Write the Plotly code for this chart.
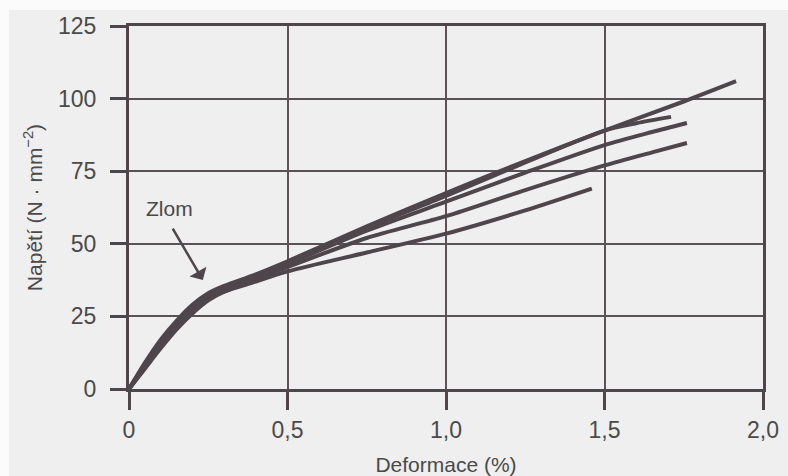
import plotly.graph_objects as go

# ---- data ----
x_common = [0, 0.05, 0.1, 0.15, 0.2, 0.25, 0.3, 0.4, 0.5, 0.75, 1.0, 1.25, 1.5]

curve_a_x = x_common + [1.75, 1.915]
curve_a_y = [0, 9, 17, 23.5, 29, 33, 35.5, 39.5, 44, 56, 67.5, 78.5, 89, 99, 106]

curve_b_x = x_common + [1.6, 1.71]
curve_b_y = [0, 8.5, 16.5, 23, 28.5, 32.5, 35, 39, 43.5, 55.5, 66.5, 78, 89, 91.5, 93.7]

curve_c_x = x_common + [1.65, 1.76]
curve_c_y = [0, 8, 16, 22.5, 28, 32, 34.5, 38.5, 43, 54.5, 64.5, 74.5, 84, 88.5, 91.6]

curve_d_x = x_common + [1.65, 1.76]
curve_d_y = [0, 7.5, 15, 21.5, 27, 31, 33.5, 38, 42, 52, 59.5, 68.5, 77, 81.5, 84.7]

curve_e_x = x_common[:-1] + [1.46]
curve_e_y = [0, 7, 14, 20.5, 26, 30.5, 33.5, 37, 40.5, 47, 53.5, 61.5, 69]

x_tickvals = [0, 0.5, 1.0, 1.5, 2.0]
x_ticktext = ["0", "0,5", "1,0", "1,5", "2,0"]
y_tickvals = [0, 25, 50, 75, 100, 125]

curves = [
    (curve_a_x, curve_a_y),
    (curve_b_x, curve_b_y),
    (curve_c_x, curve_c_y),
    (curve_d_x, curve_d_y),
    (curve_e_x, curve_e_y),
]

LINE = "#4e464b"
TEXT = "#4a4a4a"
FONT = "Liberation Sans, Arial, sans-serif"

fig = go.Figure()
for cx, cy in curves:
    fig.add_trace(go.Scatter(
        x=cx, y=cy, mode="lines",
        line=dict(color=LINE, width=4, shape="spline", smoothing=0.8),
        showlegend=False, hoverinfo="skip",
    ))

fig.update_layout(
    width=788, height=476,
    margin=dict(l=129, r=25, t=26, b=87),
    paper_bgcolor="#efefef",
    plot_bgcolor="#efefef",
    font=dict(family=FONT, color=TEXT, size=23),
    showlegend=False,
)

# white unscanned strips at the top and left edge of the page
fig.add_shape(type="rect", xref="paper", yref="paper",
              x0=-129 / 634, x1=-120 / 634, y0=-87 / 363, y1=1 + 26 / 363,
              line=dict(width=0), fillcolor="#fbfbfb", layer="below")
fig.add_shape(type="rect", xref="paper", yref="paper",
              x0=-129 / 634, x1=1 + 25 / 634, y0=1 + 16 / 363, y1=1 + 26 / 363,
              line=dict(width=0), fillcolor="#fbfbfb", layer="below")

fig.update_xaxes(
    range=[0, 2.0],
    tickvals=x_tickvals, ticktext=x_ticktext,
    ticks="outside", ticklen=18, tickwidth=3, tickcolor=LINE,
    ticklabelstandoff=0,
    showline=True, linewidth=3, linecolor=LINE, mirror=True,
    showgrid=True, gridcolor="#5a5257", gridwidth=1.5,
    zeroline=False, automargin=False,
    tickfont=dict(size=23, color=TEXT),
    title=dict(text="Deformace (%)", font=dict(size=21, color=TEXT), standoff=20),
)

fig.update_yaxes(
    range=[0, 125],
    tickvals=y_tickvals,
    ticks="outside", ticklen=16, tickwidth=3, tickcolor=LINE,
    ticklabelstandoff=9,
    showline=True, linewidth=3, linecolor=LINE, mirror=True,
    showgrid=True, gridcolor="#5a5257", gridwidth=1.5,
    zeroline=False, automargin=False,
    tickfont=dict(size=23, color=TEXT),
    title=dict(text="Napětí (N · mm<sup>−2</sup>)", font=dict(size=21, color=TEXT), standoff=10),
)

# "Zlom" label and arrow
fig.add_annotation(
    x=0.129, y=62.3, xref="x", yref="y",
    text="Zlom", showarrow=False,
    font=dict(size=21, color=TEXT, family=FONT),
)
fig.add_annotation(
    x=0.233, y=37.5, xref="x", yref="y",
    ax=-31, ay=-53, axref="pixel", ayref="pixel",
    text="", showarrow=True,
    arrowhead=1, arrowsize=1.3, arrowwidth=2.5, arrowcolor=LINE,
    standoff=0,
)

fig.write_html("out.html")
